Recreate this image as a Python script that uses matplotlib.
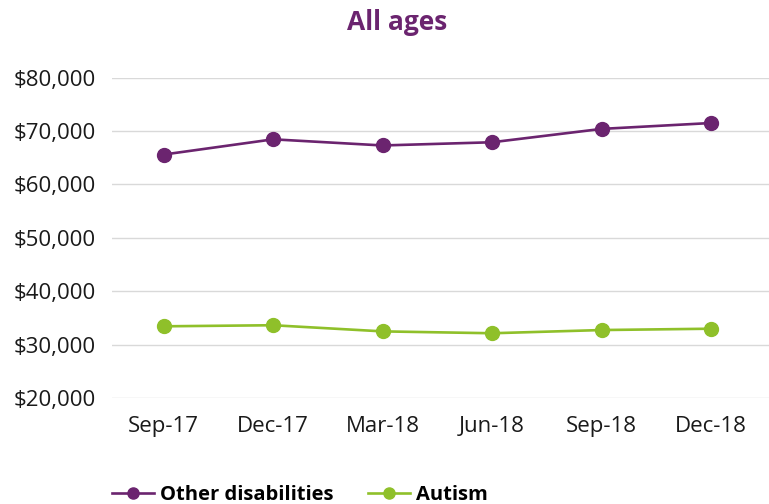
import matplotlib
matplotlib.use("Agg")
import matplotlib.pyplot as plt
from matplotlib.ticker import FuncFormatter

periods = ["Sep-17", "Dec-17", "Mar-18", "Jun-18", "Sep-18", "Dec-18"]
other_disabilities = [65600, 68450, 67300, 67900, 70400, 71500]
autism = [33450, 33650, 32500, 32150, 32750, 33000]

purple = "#6b246f"
green = "#8fc02a"
font = ["Open Sans", "DejaVu Sans"]
plt.rcParams["font.family"] = font

fig = plt.figure(figsize=(7.69, 5.04), dpi=100)
ax = fig.add_axes([0.146, 0.210, 0.854, 0.636])

x = list(range(len(periods)))
ax.plot(x, other_disabilities, color=purple, lw=1.9, marker="o", ms=10,
        label="Other disabilities", clip_on=False, zorder=3)
ax.plot(x, autism, color=green, lw=1.9, marker="o", ms=10,
        label="Autism", clip_on=False, zorder=3)

ax.set_ylim(20000, 80000)
ax.set_yticks(range(20000, 80001, 10000))
ax.yaxis.set_major_formatter(FuncFormatter(lambda v, p: f"${v:,.0f}"))
ax.set_xlim(-0.47, 5.53)
ax.set_xticks(x)
ax.set_xticklabels(periods)

ax.grid(axis="y", color="#d9d9d9", lw=1)
ax.set_axisbelow(True)
for s in ax.spines.values():
    s.set_visible(False)
ax.tick_params(axis="both", length=0, labelsize=16, colors="#1a1a1a")
ax.tick_params(axis="y", pad=12)
ax.tick_params(axis="x", pad=13)

fig.text(0.517, 0.955, "All ages", ha="center", va="center",
         fontsize=19, fontweight="bold", color=purple)

leg = fig.legend(loc="center left", bbox_to_anchor=(0.122, 0.018), ncol=2,
                 frameon=False, prop={"weight": "bold", "size": 14.5},
                 handlelength=2.1, columnspacing=1.7, handletextpad=0.3,
                 markerscale=0.8)

fig.savefig("out.png", dpi=100)
